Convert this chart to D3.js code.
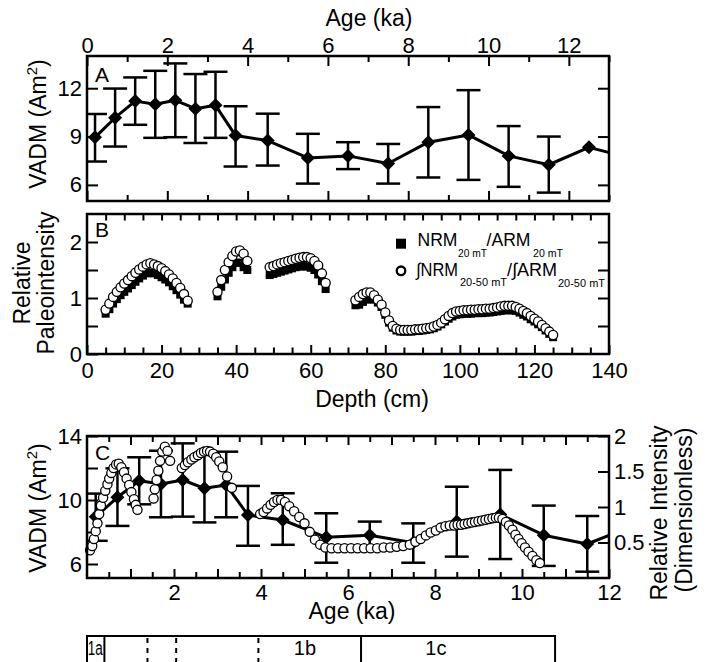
<!DOCTYPE html>
<html>
<head>
<meta charset="utf-8">
<script src="https://cdn.jsdelivr.net/npm/d3@7/dist/d3.min.js"></script>
</head>
<body style="margin:0; background:#fff;">
<div id="chart"></div>
<script>
'use strict';

// VADM record (panels A and C)
var ageA   = [0.2, 0.7, 1.2, 1.7, 2.2, 2.7, 3.2, 3.7, 4.5, 5.5, 6.5, 7.5, 8.5, 9.5, 10.5, 11.5, 12.5, 13.5];
var vadm   = [8.95, 10.17, 11.2, 11.0, 11.25, 10.73, 10.94, 9.06, 8.75, 7.67, 7.8, 7.33, 8.65, 9.1, 7.8, 7.25, 8.33, 7.7];
var vadmHi = [10.4, 11.98, 12.67, 13.08, 13.54, 12.88, 13.02, 10.88, 10.42, 9.17, 8.65, 8.54, 10.83, 11.88, 9.65, 9.0, null, null];
var vadmLo = [7.45, 8.38, 9.73, 8.92, 8.96, 8.6, 8.92, 7.14, 7.2, 6.08, 6.98, 6.08, 6.46, 6.31, 5.88, 5.52, null, null];

// relative paleointensity vs depth (panel B)
var depthB = [5, 6, 7, 8, 9, 10, 11, 12, 13, 14, 15, 16, 17, 18, 19, 20, 21, 22, 23, 24, 25, 26, 27,
  35, 36, 37, 38, 39, 40, 41, 42, 43,
  49, 50, 51, 52, 53, 54, 55, 56, 57, 58, 59, 60, 61, 62, 63, 64,
  72, 73, 74, 75, 76, 77, 78, 79, 80, 81, 82, 83, 84, 85, 86, 87, 88, 89, 90, 91, 92, 93, 94, 95, 96, 97, 98,
  99, 100, 101, 102, 103, 104, 105, 106, 107, 108, 109, 110, 111, 112, 113, 114, 115, 116, 117, 118, 119, 120,
  121, 122, 123, 124, 125];
var nrmB = [0.72, 0.8, 0.9, 0.98, 1.05, 1.11, 1.17, 1.23, 1.29, 1.35, 1.4, 1.44, 1.45, 1.44, 1.41, 1.37, 1.33, 1.28, 1.21, 1.14, 1.06, 0.97, 0.9,
  1.03, 1.2, 1.33, 1.45, 1.55, 1.63, 1.63, 1.55, 1.5,
  1.41, 1.43, 1.45, 1.47, 1.49, 1.51, 1.53, 1.55, 1.56, 1.57, 1.56, 1.54, 1.5, 1.42, 1.3, 1.16,
  0.87, 0.88, 0.93, 0.97, 1.0, 0.97, 0.92, 0.84, 0.7, 0.56, 0.47, 0.42, 0.4, 0.4, 0.4, 0.4, 0.41, 0.41, 0.42, 0.43, 0.44, 0.46, 0.49, 0.53, 0.58, 0.63, 0.67,
  0.7, 0.71, 0.72, 0.72, 0.72, 0.73, 0.73, 0.73, 0.74, 0.74, 0.75, 0.76, 0.77, 0.78, 0.78, 0.78, 0.77, 0.74, 0.7, 0.67, 0.62, 0.58,
  0.53, 0.48, 0.42, 0.36, 0.3];
var intB = [0.79, 0.9, 1.02, 1.11, 1.19, 1.26, 1.32, 1.39, 1.45, 1.51, 1.56, 1.6, 1.62, 1.6, 1.57, 1.53, 1.48, 1.42, 1.35, 1.27, 1.18, 1.07, 0.95,
  1.11, 1.32, 1.5, 1.64, 1.75, 1.83, 1.85, 1.79, 1.66,
  1.55, 1.57, 1.6, 1.62, 1.64, 1.66, 1.68, 1.7, 1.72, 1.73, 1.73, 1.71, 1.66, 1.58, 1.44, 1.27,
  0.96, 1.02, 1.07, 1.1, 1.1, 1.05, 0.97, 0.88, 0.74, 0.6, 0.5, 0.45, 0.43, 0.43, 0.43, 0.43, 0.44, 0.44, 0.45, 0.46, 0.47, 0.49, 0.52, 0.56, 0.62, 0.68, 0.73,
  0.76, 0.77, 0.78, 0.78, 0.79, 0.79, 0.8, 0.8, 0.81, 0.81, 0.82, 0.83, 0.85, 0.86, 0.86, 0.86, 0.84, 0.81, 0.77, 0.73, 0.68, 0.63,
  0.58, 0.52, 0.46, 0.4, 0.34];

// relative intensity on the age scale (panel C)
var ageC = [0.07, 0.12, 0.16, 0.2, 0.24, 0.28, 0.32, 0.37, 0.42, 0.47, 0.51, 0.56, 0.61, 0.67, 0.73, 0.79, 0.85, 0.91, 0.97, 1.02, 1.08, 1.12, 1.16,
  1.53, 1.56, 1.6, 1.64, 1.68, 1.73, 1.79, 1.85, 1.91,
  2.18, 2.25, 2.32, 2.4, 2.47, 2.55, 2.62, 2.69, 2.76, 2.83, 2.9, 2.97, 3.04, 3.12, 3.22, 3.33,
  3.98, 4.06, 4.14, 4.22, 4.3, 4.38, 4.46, 4.55, 4.65, 4.76, 4.88, 5.0, 5.12, 5.24, 5.36, 5.48, 5.62, 5.77, 5.92, 6.07, 6.22,
  6.37, 6.52, 6.67, 6.82, 6.97, 7.12, 7.27, 7.42, 7.55, 7.67, 7.79, 7.9, 8.02, 8.13, 8.24, 8.34, 8.44, 8.52, 8.6, 8.68, 8.76,
  8.84, 8.92, 9.0, 9.08, 9.16, 9.24, 9.32, 9.4, 9.47, 9.55, 9.63, 9.7, 9.78, 9.85, 9.92, 9.99, 10.07, 10.15, 10.24, 10.33, 10.41];
var relC = [0.39, 0.45, 0.55, 0.66, 0.77, 0.9, 1.02, 1.13, 1.23, 1.32, 1.4, 1.48, 1.55, 1.6, 1.61, 1.56, 1.49, 1.4, 1.31, 1.21, 1.11, 1.03, 0.96,
  1.12, 1.25, 1.38, 1.51, 1.65, 1.78, 1.85, 1.79, 1.65,
  1.55, 1.59, 1.63, 1.67, 1.7, 1.73, 1.76, 1.78, 1.79, 1.78, 1.75, 1.7, 1.64, 1.56, 1.43, 1.27,
  0.9, 0.93, 0.98, 1.03, 1.07, 1.1, 1.1, 1.07, 1.01, 0.94, 0.86, 0.77, 0.65, 0.54, 0.47, 0.43, 0.42, 0.42, 0.42, 0.42, 0.42,
  0.42, 0.42, 0.42, 0.43, 0.43, 0.44, 0.45, 0.47, 0.51, 0.55, 0.6, 0.64, 0.67, 0.71, 0.73, 0.74, 0.74, 0.75, 0.75, 0.76, 0.77,
  0.78, 0.79, 0.8, 0.81, 0.82, 0.83, 0.84, 0.85, 0.85, 0.83, 0.79, 0.74, 0.68, 0.61, 0.55, 0.49, 0.43, 0.37, 0.31, 0.25, 0.21];

// lithologic units under panel C (ka)
var unitBounds = [0, 0.4, 6.3, 10.76];
var unitNames = ["1a", "1b", "1c"];
var unitLabelAt = [0.19, 5.01, 8.02];
var subUnitBounds = [1.39, 2.05, 3.94];

var W = 711, H = 662;
var L = 87, R = 609;
var font = "'Liberation Sans', Arial, Helvetica, sans-serif";

var svg = d3.select('#chart').append('svg')
    .attr('width', W).attr('height', H)
    .style('background', '#fff')
    .attr('font-family', font);

var xA = d3.scaleLinear().domain([0, 13]).range([L, R]);
var yA = d3.scaleLinear().domain([5, 14]).range([201, 56]);
var xB = d3.scaleLinear().domain([0, 140]).range([L, R]);
var yB = d3.scaleLinear().domain([0, 2.5]).range([354, 214]);
var xC = d3.scaleLinear().domain([0, 12]).range([L, R]);
var yCl = d3.scaleLinear().domain([5.125, 14]).range([578, 436]);
var yCr = d3.scaleLinear().domain([0, 2]).range([578, 436]);

function ax(gen, scale, vals, size, tr, fmt, pad) {
    var a = gen(scale).tickValues(vals).tickSizeInner(-size).tickSizeOuter(0).tickPadding(pad || 4);
    a.tickFormat(fmt || function() { return ''; });
    var g = svg.append('g').attr('transform', tr).call(a);
    g.select('.domain').remove();
    g.attr('font-family', font).attr('font-size', 22);
    g.selectAll('.tick line').attr('stroke', '#000').attr('stroke-width', 2);
    g.selectAll('.tick text').attr('fill', '#000');
    return g;
}
var plain = function(d) { return d; };

// ---------- panel A ----------
var evens13 = [0, 2, 4, 6, 8, 10, 12], odds13 = [1, 3, 5, 7, 9, 11, 13];
ax(d3.axisTop, xA, evens13, 10, 'translate(0,56)', plain, 3.5);
ax(d3.axisTop, xA, odds13, 6, 'translate(0,56)');
ax(d3.axisBottom, xA, evens13, 10, 'translate(0,201)');
ax(d3.axisBottom, xA, odds13, 6, 'translate(0,201)');
ax(d3.axisLeft, yA, [6, 9, 12], 11, 'translate(' + L + ',0)', plain, 5);
ax(d3.axisRight, yA, [6, 9, 12], 11, 'translate(' + R + ',0)');

function clip(id, y0, y1) {
    svg.append('clipPath').attr('id', id).append('rect')
        .attr('x', L).attr('y', y0).attr('width', R - L).attr('height', y1 - y0);
}
clip('clipA', 56, 201);
clip('clipC', 436, 578);

var diamond = 'M0,-7L7,0L0,7L-7,0Z';

function drawVadm(clipId, x, y) {
    var g = svg.append('g').attr('clip-path', 'url(#' + clipId + ')');
    var idx = d3.range(ageA.length);
    var eb = g.selectAll('.eb').data(idx.filter(function(i) { return vadmHi[i] != null; }))
        .enter().append('g').attr('stroke', '#000').attr('stroke-width', 2.5);
    eb.append('line')
        .attr('x1', function(i) { return x(ageA[i]); }).attr('x2', function(i) { return x(ageA[i]); })
        .attr('y1', function(i) { return y(vadmLo[i]); }).attr('y2', function(i) { return y(vadmHi[i]); });
    [vadmLo, vadmHi].forEach(function(arr) {
        eb.append('line')
            .attr('x1', function(i) { return x(ageA[i]) - 12; }).attr('x2', function(i) { return x(ageA[i]) + 12; })
            .attr('y1', function(i) { return y(arr[i]); }).attr('y2', function(i) { return y(arr[i]); });
    });
    g.append('path').datum(idx)
        .attr('fill', 'none').attr('stroke', '#000').attr('stroke-width', 3).attr('stroke-linejoin', 'round')
        .attr('d', d3.line().x(function(i) { return x(ageA[i]); }).y(function(i) { return y(vadm[i]); }));
    g.selectAll('.dm').data(idx).enter().append('path')
        .attr('d', diamond).attr('fill', '#000')
        .attr('transform', function(i) { return 'translate(' + x(ageA[i]) + ',' + y(vadm[i]) + ')'; });
    return g;
}
drawVadm('clipA', xA, yA);

// ---------- panel B ----------
var cm5 = [5, 10, 15, 25, 30, 35, 45, 50, 55, 65, 70, 75, 85, 90, 95, 105, 110, 115, 125, 130, 135];
var cm20 = [20, 40, 60, 80, 100, 120];
ax(d3.axisTop, xB, cm20.concat(cm5), 6.5, 'translate(0,214)');
ax(d3.axisBottom, xB, [0, 20, 40, 60, 80, 100, 120, 140], 9, 'translate(0,354)', plain, 8.5);
ax(d3.axisBottom, xB, cm5, 6.5, 'translate(0,354)');
ax(d3.axisLeft, yB, [0, 0.5, 1, 1.5, 2], 11, 'translate(' + L + ',0)', function(d) { return d % 1 === 0 ? d : ''; }, 5);
ax(d3.axisRight, yB, [0.5, 1, 1.5, 2], 11, 'translate(' + R + ',0)');

var gB = svg.append('g');
gB.selectAll('.sq').data(d3.range(depthB.length)).enter().append('rect')
    .attr('x', function(i) { return xB(depthB[i]) - 4; })
    .attr('y', function(i) { return yB(nrmB[i]) - 4; })
    .attr('width', 8).attr('height', 8).attr('fill', '#000');
gB.selectAll('.ci').data(d3.range(depthB.length)).enter().append('circle')
    .attr('cx', function(i) { return xB(depthB[i]); })
    .attr('cy', function(i) { return yB(intB[i]); })
    .attr('r', 4.6).attr('fill', '#fff').attr('stroke', '#000').attr('stroke-width', 1.3);

// legend
var lg = svg.append('g').attr('fill', '#000');
lg.append('rect').attr('x', 396).attr('y', 238.7).attr('width', 10).attr('height', 10);
lg.append('circle').attr('cx', 401).attr('cy', 270.8).attr('r', 4.3)
    .attr('fill', '#fff').attr('stroke', '#000').attr('stroke-width', 2.3);
function lt(txt, x, y, size, len) {
    lg.append('text').attr('x', x).attr('y', y).attr('font-size', size)
        .attr('textLength', len).attr('lengthAdjust', 'spacingAndGlyphs').text(txt);
}
lt('NRM', 417.5, 246.3, 18.5, 40);
lt('20 mT', 458, 257.3, 10, 29);
lt('/ARM', 486.5, 246.3, 18.5, 44);
lt('20 mT', 533, 257.3, 10, 30);
lt('\u222BNRM', 416, 275.5, 18.5, 42);
lt('20-50 mT', 460, 285.5, 10, 47);
lt('/\u222BARM', 507, 275.5, 18.5, 50);
lt('20-50 mT', 558, 286.5, 10, 47);

// ---------- panel C ----------
var halfKa = [0.5, 1.5, 2.5, 3.5, 4.5, 5.5, 6.5, 7.5, 8.5, 9.5, 10.5, 11.5];
var oneKa = [1, 2, 3, 4, 5, 6, 7, 8, 9, 10, 11];
ax(d3.axisTop, xC, oneKa, 9, 'translate(0,436)');
ax(d3.axisTop, xC, halfKa, 6, 'translate(0,436)');
ax(d3.axisBottom, xC, [1, 3, 5, 7, 9, 11], 9, 'translate(0,578)');
ax(d3.axisBottom, xC, [2, 4, 6, 8, 10, 12], 9, 'translate(0,578)', plain, 6);
ax(d3.axisBottom, xC, halfKa, 6, 'translate(0,578)');
ax(d3.axisLeft, yCl, [6, 8, 10, 12, 14], 11, 'translate(' + L + ',0)', function(d) { return d % 4 === 2 ? d : ''; }, 5);
ax(d3.axisRight, yCr, [0.5, 1, 1.5, 2], 11, 'translate(' + R + ',0)', plain, 5);

drawVadm('clipC', xC, yCl);
svg.append('g').selectAll('circle').data(d3.range(ageC.length)).enter().append('circle')
    .attr('cx', function(i) { return xC(ageC[i]); })
    .attr('cy', function(i) { return yCr(relC[i]); })
    .attr('r', 4.6).attr('fill', '#fff').attr('stroke', '#000').attr('stroke-width', 1.3);

// frames on top
[[56, 201], [214, 354], [436, 578]].forEach(function(p) {
    svg.append('rect').attr('x', L).attr('y', p[0]).attr('width', R - L).attr('height', p[1] - p[0])
        .attr('fill', 'none').attr('stroke', '#000').attr('stroke-width', 2.5);
});

// ---------- titles ----------
function txt(s, x, y, size, anchor) {
    return svg.append('text').attr('x', x).attr('y', y).attr('font-size', size)
        .attr('text-anchor', anchor || 'middle').attr('fill', '#000').text(s);
}
txt('Age (ka)', 369, 26, 23);
txt('Depth (cm)', 372, 406.5, 23);
txt('Age (ka)', 352, 619, 23);
txt('A', 95, 82, 21, 'start');
txt('B', 95, 237, 21, 'start');
txt('C', 95, 460, 21, 'start');

function vlabel(x, y, size) {
    return svg.append('text').attr('transform', 'translate(' + x + ',' + y + ') rotate(-90)')
        .attr('text-anchor', 'middle').attr('font-size', size).attr('fill', '#000');
}
function vadmLabel(x, y) {
    var t = vlabel(x, y, 23);
    t.append('tspan').text('VADM (Am');
    t.append('tspan').attr('dy', -9).attr('font-size', 15).text('2');
    t.append('tspan').attr('dy', 9).text(')');
}
vadmLabel(46, 124);
vadmLabel(46, 508);
vlabel(30, 283, 23).text('Relative');
vlabel(54, 283, 23).text('Paleointensity');
vlabel(667, 513, 23).text('Relative Intensity');
vlabel(692, 510, 23).text('(Dimensionless)');

// ---------- unit bar ----------
var bar = svg.append('g').attr('stroke', '#000').attr('stroke-width', 2);
bar.append('rect').attr('x', xC(unitBounds[0])).attr('y', 636)
    .attr('width', xC(unitBounds[3]) - xC(unitBounds[0])).attr('height', 40).attr('fill', 'none');
bar.selectAll('.sd').data(unitBounds.slice(1, 3)).enter().append('line')
    .attr('x1', xC).attr('x2', xC).attr('y1', 636).attr('y2', 662);
bar.selectAll('.dd').data(subUnitBounds).enter().append('line')
    .attr('x1', xC).attr('x2', xC).attr('y1', 638).attr('y2', 662)
    .attr('stroke-dasharray', '5,5');
svg.append('g').selectAll('text').data(unitNames).enter().append('text')
    .attr('x', function(d, i) { return xC(unitLabelAt[i]); }).attr('y', 655)
    .attr('text-anchor', 'middle').attr('font-size', 20).attr('fill', '#000')
    .attr('textLength', function(d, i) { return i === 0 ? 15 : null; })
    .attr('lengthAdjust', 'spacingAndGlyphs')
    .text(function(d) { return d; });
</script>
</body>
</html>
